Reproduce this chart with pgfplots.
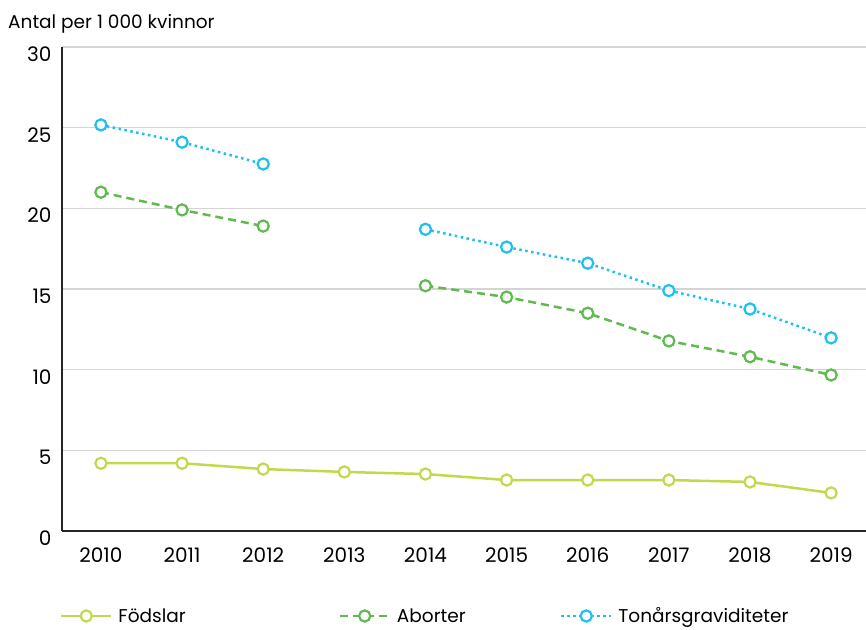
\documentclass[border=0pt]{standalone}
\usepackage{pgfplots}
\pgfplotsset{compat=1.18}
\usepackage{fontspec}
\setmainfont{Poppins}
\definecolor{cFod}{RGB}{194,217,78}
\definecolor{cAbo}{RGB}{96,186,80}
\definecolor{cTon}{RGB}{30,192,240}
\definecolor{cGrid}{RGB}{212,212,212}
\begin{document}
\begin{tikzpicture}[x=1pt,y=1pt]
\useasboundingbox (0,0) rectangle (866,629);
\node[anchor=base west, inner sep=0pt, font=\fontsize{18.5}{20}\selectfont] at (8,600) {Antal per 1 000 kvinnor};
\begin{axis}[
  at={(62pt,98pt)}, anchor=south west,
  scale only axis, width=804pt, height=484pt,
  xmin=2009.52, xmax=2019.43, ymin=0, ymax=30,
  xtick={2010,2011,2012,2013,2014,2015,2016,2017,2018,2019},
  ytick={0,5,10,15,20,25,30},
  axis x line*=bottom, axis y line*=left,
  axis line style={-, black!85, line width=1.5pt},
  major tick length=0pt,
  ymajorgrids, grid style={cGrid, line width=1.5pt},
  /pgf/number format/.cd, 1000 sep={}, assume math mode=true, /pgfplots/.cd,
  tick label style={font=\fontsize{20}{22}\selectfont},
  xticklabel style={yshift=-13pt},
  yticklabel style={xshift=-7pt, yshift=-7pt},
  unbounded coords=jump,
  legend columns=3,
  legend style={at={(-0.0025,-0.1756)}, anchor=west, draw=none, inner sep=0pt, outer sep=0pt,
    font=\fontsize{18.5}{20}\selectfont,
    nodes={inner sep=0pt},
    /tikz/every odd column/.append style={column sep=6pt}},
  legend image code/.code={\draw[mark repeat=2,mark phase=2,#1] plot coordinates {(0pt,0pt) (25pt,0pt) (50pt,0pt)};},
  every axis plot/.append style={line width=2.5pt},
]
\addplot[cFod, solid, mark=*, mark size=5.6pt, mark options={solid, fill=white, line width=2.2pt}] coordinates {
(2010,4.2) (2011,4.2) (2012,3.84) (2013,3.66) (2014,3.53) (2015,3.16) (2016,3.16) (2017,3.16) (2018,3.04) (2019,2.36)};
\addlegendentry{\makebox[220pt][l]{Födslar}}
\addplot[cAbo, dash pattern=on 8pt off 5pt, mark=*, mark size=5.6pt, mark options={solid, fill=white, line width=2.2pt}] coordinates {
(2010,21.0) (2011,19.9) (2012,18.9) (2013,nan) (2014,15.2) (2015,14.5) (2016,13.5) (2017,11.78) (2018,10.8) (2019,9.67)};
\addlegendentry{\makebox[163pt][l]{Aborter}}
\addplot[cTon, dash pattern=on 2.5pt off 3.5pt, mark=*, mark size=5.6pt, mark options={solid, fill=white, line width=2.2pt}] coordinates {
(2010,25.17) (2011,24.1) (2012,22.75) (2013,nan) (2014,18.7) (2015,17.6) (2016,16.6) (2017,14.9) (2018,13.76) (2019,11.97)};
\addlegendentry{Tonårsgraviditeter}
\end{axis}
\end{tikzpicture}
\end{document}
